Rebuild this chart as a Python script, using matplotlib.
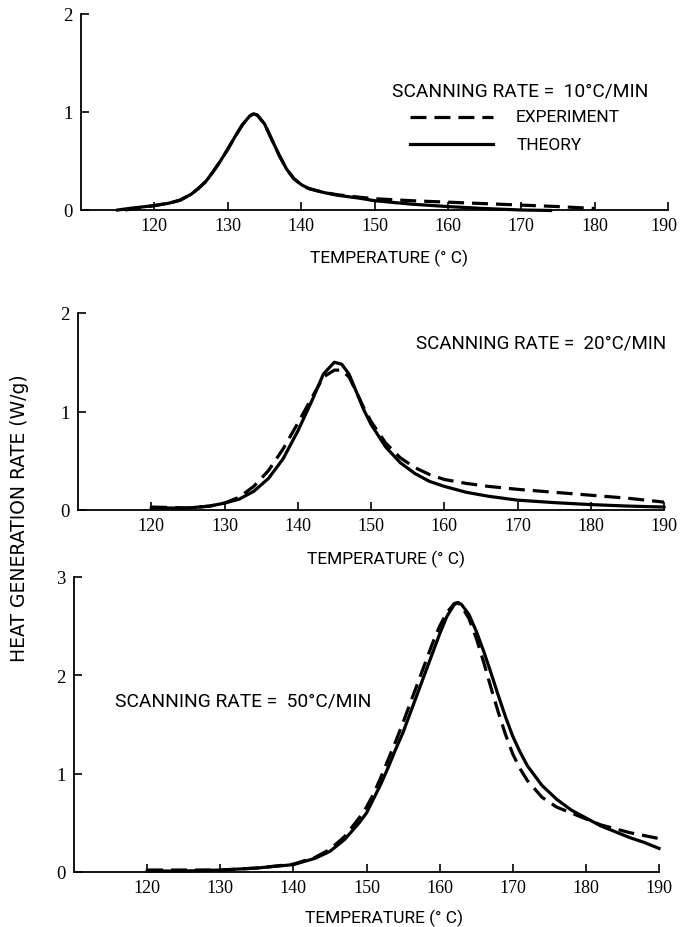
import matplotlib
matplotlib.use("Agg")
import matplotlib.pyplot as plt
import matplotlib.transforms as mtransforms

# ---- data ----
# Panel 1: scanning rate 10 C/min
t1_theory = [115, 117, 120, 122, 123.5, 125, 126, 127, 128, 129, 130, 131, 132, 133, 133.5, 134, 135, 136, 137, 138, 139, 140, 141, 143, 145, 148, 150, 155, 160, 165, 170, 174]
q1_theory = [0.0, 0.02, 0.045, 0.07, 0.10, 0.16, 0.22, 0.29, 0.39, 0.50, 0.62, 0.75, 0.87, 0.96, 0.98, 0.97, 0.88, 0.72, 0.56, 0.42, 0.32, 0.26, 0.22, 0.18, 0.15, 0.12, 0.095, 0.06, 0.035, 0.015, 0.0, -0.005]
t1_exp = [116, 118, 120, 122, 123.5, 125, 126, 127, 128, 129, 130, 131, 132, 133, 133.5, 134, 135, 136, 137, 138, 139, 140, 141, 143, 145, 148, 150, 155, 160, 165, 170, 175, 180]
q1_exp = [0.0, 0.02, 0.045, 0.07, 0.10, 0.16, 0.22, 0.29, 0.39, 0.50, 0.62, 0.75, 0.87, 0.96, 0.98, 0.97, 0.88, 0.72, 0.56, 0.42, 0.32, 0.26, 0.22, 0.18, 0.155, 0.13, 0.115, 0.095, 0.08, 0.065, 0.05, 0.035, 0.015]

# Panel 2: scanning rate 20 C/min
t2 = [120, 125, 128, 130, 132, 134, 136, 138, 140, 142, 143.5, 145, 146, 147, 148, 149, 150, 152, 154, 156, 158, 160, 163, 166, 170, 175, 180, 185, 190]
q2_theory = [0.02, 0.02, 0.04, 0.07, 0.11, 0.19, 0.32, 0.52, 0.80, 1.12, 1.38, 1.50, 1.48, 1.38, 1.20, 1.02, 0.87, 0.64, 0.48, 0.37, 0.29, 0.24, 0.18, 0.14, 0.10, 0.075, 0.055, 0.04, 0.03]
q2_exp = [0.03, 0.02, 0.04, 0.07, 0.13, 0.24, 0.40, 0.62, 0.88, 1.15, 1.35, 1.42, 1.42, 1.35, 1.20, 1.04, 0.90, 0.68, 0.53, 0.43, 0.36, 0.31, 0.27, 0.24, 0.21, 0.18, 0.15, 0.12, 0.08]

# Panel 3: scanning rate 50 C/min
t3 = [120, 125, 130, 135, 140, 143, 145, 147, 149, 150, 151, 152, 153, 154, 155, 156, 157, 158, 159, 160, 161, 162, 162.5, 163, 164, 165, 166, 167, 168, 169, 170, 171, 172, 174, 176, 178, 180, 182, 184, 186, 188, 190]
q3_theory = [0.01, 0.01, 0.02, 0.04, 0.075, 0.14, 0.21, 0.33, 0.50, 0.60, 0.75, 0.90, 1.07, 1.25, 1.42, 1.62, 1.82, 2.02, 2.22, 2.42, 2.60, 2.72, 2.74, 2.72, 2.62, 2.45, 2.25, 2.03, 1.80, 1.58, 1.38, 1.22, 1.08, 0.88, 0.74, 0.63, 0.55, 0.47, 0.41, 0.35, 0.30, 0.24]
q3_exp = [0.02, 0.02, 0.02, 0.04, 0.08, 0.15, 0.23, 0.36, 0.55, 0.66, 0.80, 0.97, 1.15, 1.33, 1.52, 1.72, 1.92, 2.12, 2.32, 2.50, 2.64, 2.73, 2.74, 2.70, 2.58, 2.38, 2.14, 1.88, 1.63, 1.40, 1.20, 1.05, 0.93, 0.76, 0.66, 0.60, 0.54, 0.48, 0.44, 0.40, 0.37, 0.34]

x_ticks = [120, 130, 140, 150, 160, 170, 180, 190]
rate_labels = ["SCANNING RATE =  10°C/MIN", "SCANNING RATE =  20°C/MIN", "SCANNING RATE =  50°C/MIN"]
legend_labels = ["EXPERIMENT", "THEORY"]
xlabel = "TEMPERATURE (° C)"
ylabel = "HEAT GENERATION RATE (W/g)"

# ---- style ----
TXT = ["Roboto", "DejaVu Sans"]
NUM = ["Liberation Serif", "DejaVu Serif"]
plt.rcParams["font.family"] = TXT

W, H = 680, 928
fig = plt.figure(figsize=(W / 100, H / 100), dpi=100)

def px_axes(left, right, top, bottom):
    return fig.add_axes([left / W, 1 - bottom / H, (right - left) / W, (bottom - top) / H])

ax1 = px_axes(81, 668, 15, 211)
ax2 = px_axes(78, 664, 314, 511)
ax3 = px_axes(74, 659, 578, 873)

LW = 2.3
DASH = (0, (5, 2.5))

def style(ax, ymax):
    ax.set_xlim(110, 190)
    ax.set_ylim(0, ymax)
    for s in ["top", "right"]:
        ax.spines[s].set_visible(False)
    for s in ["left", "bottom"]:
        ax.spines[s].set_linewidth(1.3)
        ax.spines[s].set_color("black")
    ax.set_xticks(x_ticks)
    ax.set_xticklabels([str(v) for v in x_ticks], family=NUM, fontsize=13)
    ax.set_yticks(list(range(0, ymax + 1)))
    ax.set_yticklabels([str(v) for v in range(0, ymax + 1)], family=NUM, fontsize=13.5)
    ax.tick_params(axis="both", direction="in", length=6, width=1.2, pad=5)
    ax.tick_params(axis="y", pad=6)
    ax.set_xlabel(xlabel, fontsize=12.5)

style(ax1, 2)
style(ax2, 2)
style(ax3, 3)
ax1.xaxis.set_label_coords(0.525, -0.2)
ax2.xaxis.set_label_coords(0.525, -0.2)
ax3.xaxis.set_label_coords(0.53, -0.125)

# keep the last tick label of the top panel inside the canvas
last = ax1.get_xticklabels()[-1]
last.set_transform(last.get_transform() + mtransforms.ScaledTranslation(-4 / 100, 0, fig.dpi_scale_trans))

# panel 1
ax1.plot(t1_exp, q1_exp, color="black", lw=LW, ls=DASH, clip_on=False)
ax1.plot(t1_theory, q1_theory, color="black", lw=LW, clip_on=False)
ax1.text(152.4, 1.22, rate_labels[0], fontsize=13.8, va="center", ha="left")
ax1.plot([154.8, 166.2], [0.95, 0.95], color="black", lw=LW, ls=DASH)
ax1.plot([154.8, 166.2], [0.67, 0.67], color="black", lw=LW)
ax1.text(169.3, 0.95, legend_labels[0], fontsize=12.5, va="center", ha="left")
ax1.text(169.3, 0.67, legend_labels[1], fontsize=12.5, va="center", ha="left")

# panel 2
ax2.plot(t2, q2_exp, color="black", lw=LW, ls=DASH, clip_on=False)
ax2.plot(t2, q2_theory, color="black", lw=LW, clip_on=False)
ax2.text(156.2, 1.70, rate_labels[1], fontsize=13.5, va="center", ha="left")

# panel 3
ax3.plot(t3, q3_exp, color="black", lw=LW, ls=DASH, clip_on=False)
ax3.plot(t3, q3_theory, color="black", lw=LW, clip_on=False)
ax3.text(115.6, 1.74, rate_labels[2], fontsize=13.8, va="center", ha="left")

fig.text(20 / W, 1 - 518 / H, ylabel, rotation=90, ha="center", va="center",
         fontsize=13.5, family=["DejaVu Sans"])

fig.savefig("out.png", dpi=100)
